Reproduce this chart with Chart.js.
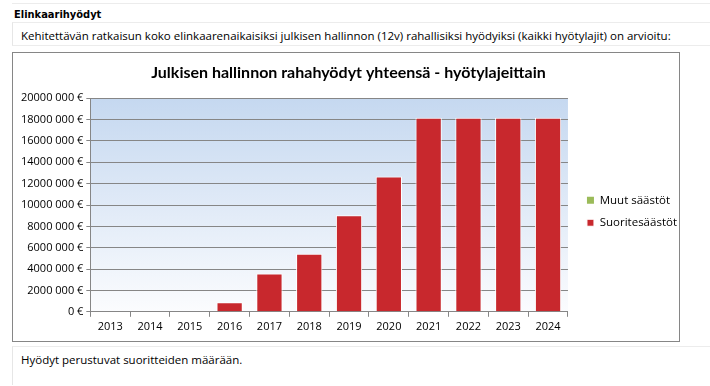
<!DOCTYPE html>
<html>
<head>
<meta charset="utf-8">
<script src="https://cdn.jsdelivr.net/npm/chart.js@4.4.0/dist/chart.umd.min.js"></script>
<style>
    body { margin: 0; background: #fff; width: 710px; height: 386px; overflow: hidden; position: relative; font-family: "Open Sans", sans-serif; color: #000; }
    .rule { position: absolute; left: 12px; right: 0; top: 3px; border-top: 1px solid #ececec; }
    .head { position: absolute; left: 14px; top: 8px; font: bold 11px "DejaVu Sans Condensed", sans-serif; }
    .cell { position: absolute; left: 12px; right: 0; border-left: 1px solid #e6e6e6; border-top: 1px solid #ececec; font-size: 11.5px; padding-left: 8px; }
    .desc { top: 22px; height: 20px; padding-top: 2px; line-height: 22px; border-bottom: 1px solid #ececec; }
    .foot { top: 346px; height: 38px; line-height: 25px; }
    .box { position: absolute; left: 12px; top: 52px; width: 666px; height: 288px; border: 1px solid #868686; }
</style>
</head>
<body>
<div class="rule"></div>
<div class="head">Elinkaarihyödyt</div>
<div class="cell desc">Kehitettävän ratkaisun koko elinkaarenaikaisiksi julkisen hallinnon (12v) rahallisiksi hyödyiksi (kaikki hyötylajit) on arvioitu:</div>
<div class="box"><canvas id="benefitChart" width="666" height="288"></canvas></div>
<div class="cell foot">Hyödyt perustuvat suoritteiden määrään.</div>

<script>
// Data
const years = ['2013', '2014', '2015', '2016', '2017', '2018', '2019', '2020', '2021', '2022', '2023', '2024'];
const suoritesaastot = [0, 0, 0, 890000, 3580000, 5440000, 9030000, 12670000, 18180000, 18180000, 18180000, 18180000];
const muutSaastot = [0, 0, 0, 0, 0, 0, 0, 0, 0, 0, 0, 0];
const yTickLabels = ['0 €', '2000 000 €', '4000 000 €', '6000 000 €', '8000 000 €', '10000 000 €',
    '12000 000 €', '14000 000 €', '16000 000 €', '18000 000 €', '20000 000 €'];

// Gradient behind the plot area
const plotBackground = {
    id: 'plotBackground',
    beforeDraw(chart) {
        const { ctx, chartArea: a } = chart;
        const g = ctx.createLinearGradient(0, a.top, 0, a.bottom);
        g.addColorStop(0, '#c5d8f0');
        g.addColorStop(1, '#fbfcfe');
        ctx.save();
        ctx.fillStyle = g;
        ctx.fillRect(a.left, a.top, a.right - a.left, a.bottom - a.top);
        ctx.restore();
    }
};

// Push the legend a bit right and down, like the original sheet
const legendNudge = {
    id: 'legendNudge',
    afterLayout(chart) {
        const lg = chart.legend;
        lg.left += 8; lg.right += 8;
        lg.top += 17; lg.bottom += 17;
    }
};

const ctx = document.getElementById('benefitChart').getContext('2d');
new Chart(ctx, {
    type: 'bar',
    data: {
        labels: years,
        datasets: [{
            label: 'Suoritesäästöt',
            data: suoritesaastot,
            backgroundColor: '#c8282d',
            borderColor: '#ffffff',
            borderWidth: 1,
            barPercentage: 0.66,
            categoryPercentage: 1
        }, {
            label: 'Muut säästöt',
            data: muutSaastot,
            backgroundColor: '#9bbb59',
            borderColor: '#ffffff',
            borderWidth: 0,
            barPercentage: 0.66,
            categoryPercentage: 1
        }]
    },
    options: {
        responsive: false,
        animation: false,
        layout: { padding: { left: 5, right: 0, bottom: 5 } },
        plugins: {
            title: {
                display: true,
                text: 'Julkisen hallinnon rahahyödyt yhteensä - hyötylajeittain',
                color: '#000',
                font: { family: 'Lato', size: 16, weight: 'bold' },
                padding: { top: 10, bottom: 16 }
            },
            legend: {
                position: 'right',
                reverse: true,
                labels: {
                    boxWidth: 7,
                    boxHeight: 7,
                    padding: 11,
                    color: '#000',
                    font: { family: 'Open Sans', size: 11.5 }
                }
            },
            tooltip: { enabled: false }
        },
        scales: {
            x: {
                stacked: true,
                grid: { display: true, drawOnChartArea: false, drawTicks: true, tickLength: 5, color: '#868686', offset: true },
                border: { color: '#868686' },
                ticks: { color: '#000', font: { family: 'Open Sans', size: 11 }, padding: 3 }
            },
            y: {
                stacked: true,
                min: 0,
                max: 20000000,
                ticks: {
                    stepSize: 2000000,
                    color: '#000',
                    font: { family: 'Open Sans', size: 11 },
                    padding: 3,
                    callback: (value, index) => yTickLabels[index]
                },
                grid: { color: '#868686', tickLength: 4 },
                border: { color: '#868686' }
            }
        }
    },
    plugins: [plotBackground, legendNudge]
});
</script>
</body>
</html>
